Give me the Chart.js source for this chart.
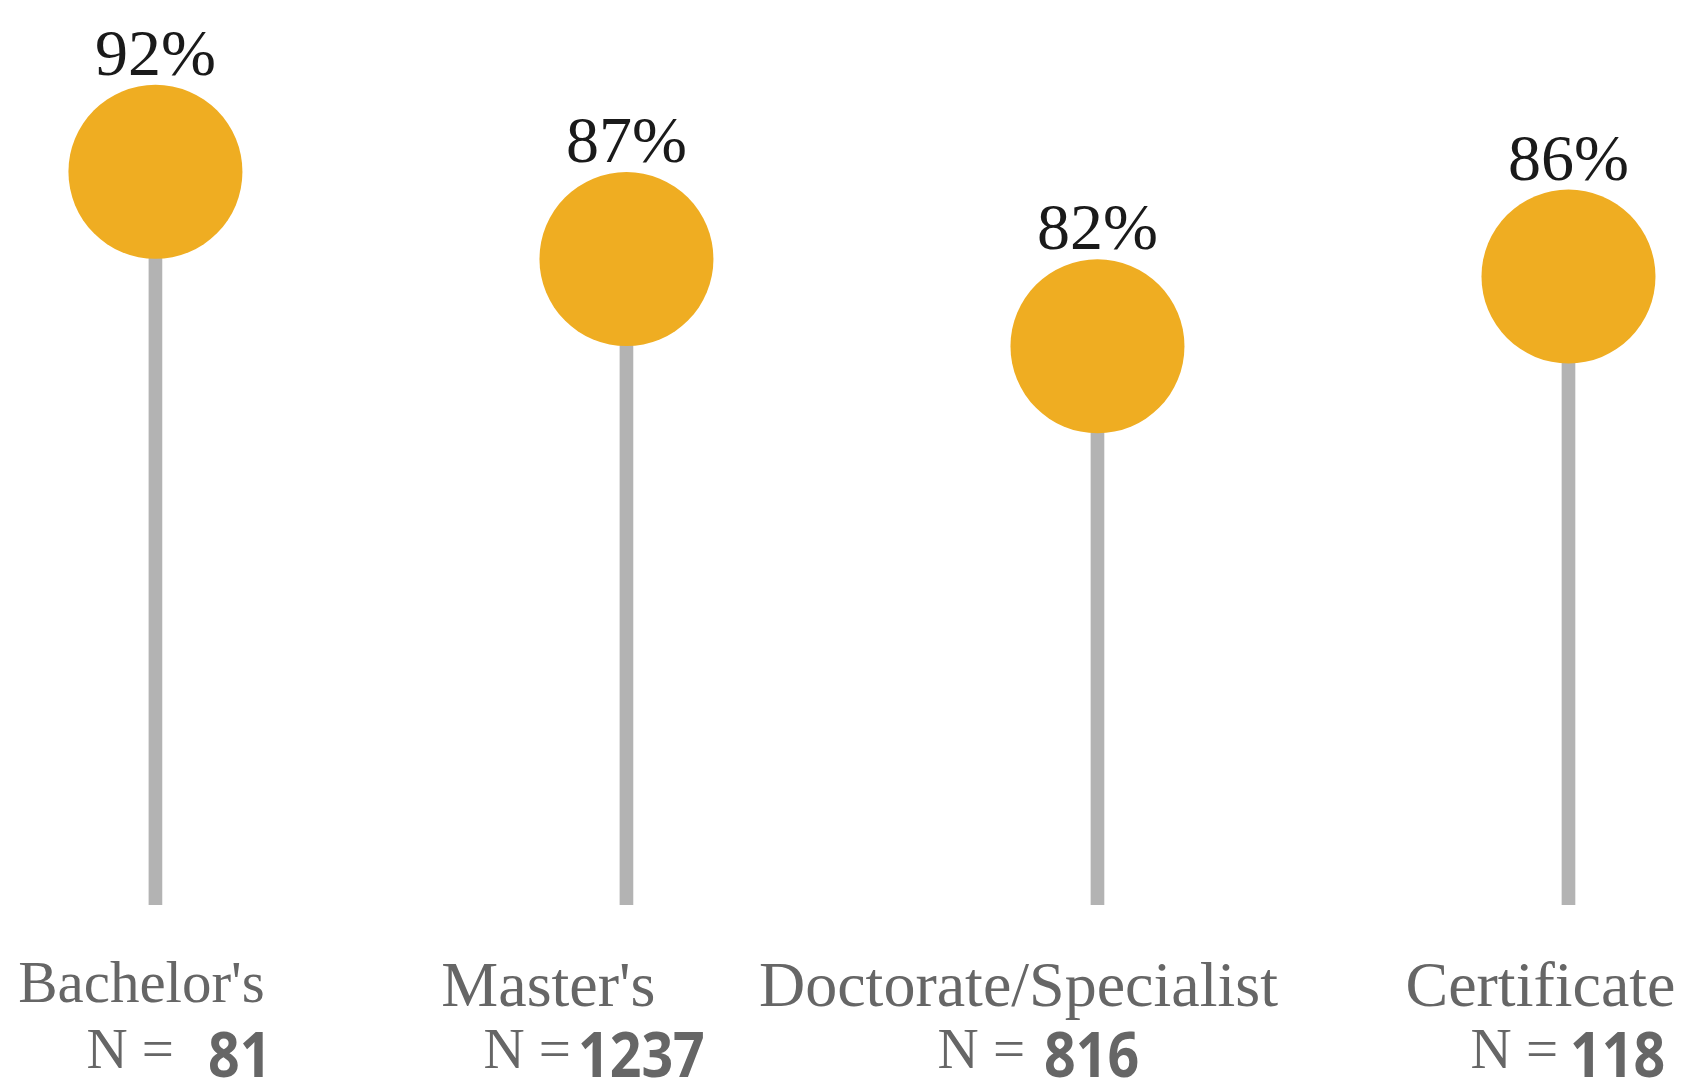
<!DOCTYPE html>
<html>
<head>
<meta charset="utf-8">
<script src="https://cdn.jsdelivr.net/npm/chart.js@4/dist/chart.umd.min.js"></script>
<style>
    html, body { margin: 0; padding: 0; background: #ffffff; }
    #lollipop { display: block; }
</style>
</head>
<body>
<canvas id="lollipop" width="1682" height="1079"></canvas>
<script>
// Completion rate by degree type

const categories = ["Bachelor's", "Master's", 'Doctorate/Specialist', 'Certificate'];
const rates = [92, 87, 82, 86];
const counts = [81, 1237, 816, 118];
const stemBase = 50;

// label placement relative to each stem (px)
const nameOffsets = [-14, -78, -79, -28];
const nameSizes = [59, 64, 64, 64];
const nameBaselines = [1002, 1006, 1006, 1006];
const nLineOffsets = [-69, -143, -160, -98];
const nGaps = [34, 7, 19, 12];

const GOLD = '#EFAD22';
const STEM = '#B3B3B3';
const GREY_TEXT = '#666666';
const RADIUS = 87;

const labelPlugin = {
    id: 'lollipopLabels',
    afterDatasetsDraw(chart) {
        const ctx = chart.ctx;
        const xs = chart.scales.x;
        const ys = chart.scales.y;
        ctx.save();
        rates.forEach((v, i) => {
            const cx = xs.getPixelForValue(i);
            const cy = ys.getPixelForValue(v);

            // value above the ball
            ctx.fillStyle = '#1a1a1a';
            ctx.font = '66px "Liberation Serif", "Times New Roman", serif';
            ctx.textAlign = 'center';
            ctx.textBaseline = 'alphabetic';
            ctx.fillText(v + '%', cx, cy - RADIUS - 10);

            // category name
            ctx.fillStyle = GREY_TEXT;
            ctx.font = nameSizes[i] + 'px "Liberation Serif", "Times New Roman", serif';
            ctx.fillText(categories[i], cx + nameOffsets[i], nameBaselines[i]);

            // N = count
            ctx.textAlign = 'left';
            ctx.font = '57px "Liberation Serif", "Times New Roman", serif';
            const nx = cx + nLineOffsets[i];
            ctx.fillText('N =', nx, 1068);
            const w = ctx.measureText('N =').width;
            ctx.save();
            ctx.translate(nx + w + nGaps[i], 1077);
            ctx.scale(0.88, 1);
            ctx.font = 'bold 63px "Open Sans", "Noto Sans", sans-serif';
            ctx.fillText(String(counts[i]), 0, 0);
            ctx.restore();
        });
        ctx.restore();
    }
};

new Chart(document.getElementById('lollipop'), {
    data: {
        datasets: [
            {
                type: 'bar',
                data: rates.map((v, i) => ({ x: i, y: [stemBase, v] })),
                backgroundColor: STEM,
                borderWidth: 0,
                barThickness: 13,
                order: 2
            },
            {
                type: 'scatter',
                data: rates.map((v, i) => ({ x: i, y: v })),
                backgroundColor: GOLD,
                borderWidth: 0,
                pointRadius: RADIUS,
                pointHoverRadius: RADIUS,
                clip: false,
                order: 1
            }
        ]
    },
    options: {
        responsive: false,
        animation: false,
        events: [],
        layout: { padding: 0, autoPadding: false },
        plugins: {
            legend: { display: false },
            tooltip: { enabled: false },
            title: { display: false }
        },
        scales: {
            x: {
                type: 'linear',
                min: -0.330,
                max: 3.241,
                offset: false,
                display: false
            },
            y: {
                type: 'linear',
                min: 40,
                max: 101.85,
                display: false
            }
        }
    },
    plugins: [labelPlugin]
});
</script>
</body>
</html>
